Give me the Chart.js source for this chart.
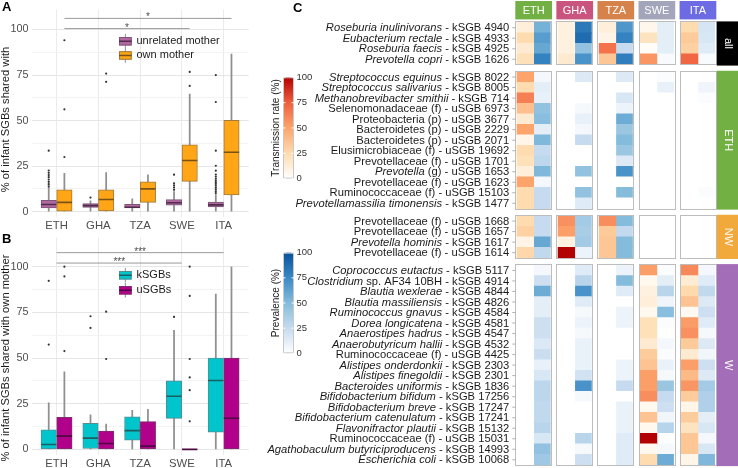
<!DOCTYPE html>
<html>
<head>
<meta charset="utf-8">
<script src="https://cdn.jsdelivr.net/npm/chart.js@4.4.0/dist/chart.umd.min.js"></script>
<style>
  html, body { margin: 0; padding: 0; background: #fff; }
  #wrap { position: relative; width: 738px; height: 468px; overflow: hidden; }
  canvas { position: absolute; }
</style>
</head>
<body>
<div id="wrap">
  <canvas id="chartA" width="258" height="233" style="left:0;top:0"></canvas>
  <canvas id="chartB" width="258" height="240" style="left:0;top:228px"></canvas>
  <canvas id="chartC" width="480" height="468" style="left:258px;top:0"></canvas>
</div>
<script>
// ---------- shared ----------
const groups = ['ETH', 'GHA', 'TZA', 'SWE', 'ITA'];
const yTicks = [0, 12.5, 25, 37.5, 50, 62.5, 75, 87.5, 100];

// ---------- panel A ----------
// box stats: [lower whisker, q1, median, q3, upper whisker]
const unrelatedStats = [[0, 2.0, 3.9, 6.2, 13.4], [0, 2.3, 3.3, 4.4, 6.0], [0, 2.1, 2.4, 4.0, 7.1], [0, 3.5, 4.9, 6.6, 11.0], [0, 2.6, 3.7, 5.3, 9.4]];
const unrelatedOut = [[13.9, 15.1, 16.3, 17.6, 18.9, 20.1, 21.3, 22.6, 33.5], [7.7], [], [12.0, 13.2, 14.4, 15.6, 20.3], [10.2, 11.2, 12.2, 13.2, 14.2, 15.2, 16.2, 17.2, 18.2, 19.3, 20.4, 22.5, 25.2, 33.5, 60.2, 75.0]];
const ownStats = [[0, 0, 5.1, 12.0, 21.1], [0, 0.4, 6.7, 12.0, 21.4], [0, 5.1, 12.5, 16.4, 20.2], [0, 16.6, 28.1, 36.7, 64.5], [0, 9.2, 32.6, 50.2, 86.5]];
const ownOut = [[30.0, 56.2, 94.1], [71.3, 75.8], [], [69.0, 76.7], []];
const sigFromA = [1.1875, 1.1875];
const sigToA = [5.1875, 4.1875];
const sigYA = [106.1, 100.5];
const sigTextA = ['*', '*'];

// ---------- panel B ----------
const kStats = [[0, 0, 2.7, 10.7, 25.5], [0, 0.5, 6.2, 14.3, 18.9], [0, 5.0, 10.3, 17.8, 21.4], [0, 17.0, 29.1, 37.5, 65.2], [0, 9.4, 37.7, 50.0, 85.0]];
const kOut = [[57.4, 92.3], [66.5, 72.9], [], [72.5], []];
const uStats = [[0, 0, 7.3, 17.5, 42.5], [0, 0, 3.2, 10.0, 13.9], [0, 0, 1.8, 15.2, 22.0], [0, 0, 0, 0, 0], [0, 0, 17.1, 50.0, 100]];
const uOut = [[53.8, 94.7, 100], [49.5, 75.4], [], [15.4, 32.4, 39.4, 49.5, 84.0, 100], []];
const sigFromB = [1, 1];
const sigToB = [5, 4];
const sigYB = [107.7, 102.0];
const sigTextB = ['***', '***'];

// ---------- panel C ----------
const rowGroups = ['all', 'ETH', 'NW', 'W'];
const rowGroupSize = [4, 13, 4, 19];
const taxonItalic = [
  'Roseburia inulinivorans', 'Eubacterium rectale', 'Roseburia faecis', 'Prevotella copri',
  'Streptococcus equinus', 'Streptococcus salivarius', 'Methanobrevibacter smithii', '', '', '', '', '', '', 'Prevotella', '', '', 'Prevotellamassilia timonensis',
  '', '', 'Prevotella hominis', '',
  'Coprococcus eutactus', 'Clostridium', 'Blautia wexlerae', 'Blautia massiliensis', 'Ruminococcus gnavus', 'Dorea longicatena', 'Anaerostipes hadrus', 'Anaerobutyricum hallii', '', 'Alistipes onderdonkii', 'Alistipes finegoldii', 'Bacteroides uniformis', 'Bifidobacterium bifidum', 'Bifidobacterium breve', 'Bifidobacterium catenulatum', 'Flavonifractor plautii', '', 'Agathobaculum butyriciproducens', 'Escherichia coli'
];
const taxonPlain = [
  ' - kSGB 4940', ' - kSGB 4933', ' - kSGB 4925', ' - kSGB 1626',
  ' - kSGB 8022', ' - kSGB 8005', ' - kSGB 714', 'Selenomonadaceae (f) - uSGB 6973', 'Proteobacteria (p) - uSGB 3677', 'Bacteroidetes (p) - uSGB 2229', 'Bacteroidetes (p) - uSGB 2071', 'Elusimicrobiaceae (f) - uSGB 19692', 'Prevotellaceae (f) - uSGB 1701', ' (g) - uSGB 1653', 'Prevotellaceae (f) - uSGB 1623', 'Ruminococcaceae (f) - uSGB 15103', ' - kSGB 1477',
  'Prevotellaceae (f) - uSGB 1668', 'Prevotellaceae (f) - uSGB 1657', ' - kSGB 1617', 'Prevotellaceae (f) - uSGB 1614',
  ' - kSGB 5117', ' sp. AF34 10BH - kSGB 4914', ' - kSGB 4844', ' - kSGB 4826', ' - kSGB 4584', ' - kSGB 4581', ' - kSGB 4547', ' - kSGB 4532', 'Ruminococcaceae (f) - uSGB 4425', ' - kSGB 2303', ' - kSGB 2301', ' - kSGB 1836', ' - kSGB 17256', ' - kSGB 17247', ' - kSGB 17241', ' - kSGB 15132', 'Ruminococcaceae (f) - uSGB 15031', ' - kSGB 14993', ' - kSGB 10068'
];
// transmission rate (%) and prevalence (%) per population, rows in the order above
const trETH = [12, 25, 15, 22,  50, 25, 63, 38, 15, 50, 7, 25, 22, 12, 50, 25, 25,  25, 30, 8, 27,  0, 0, 0, 0, 0, 0, 0, 0, 0, 0, 0, 0, 0, 0, 0, 0, 0, 0, 0];
const prETH = [55, 65, 60, 78,  5, 12, 10, 45, 48, 12, 52, 25, 28, 52, 5, 25, 25,  25, 25, 60, 27,  5, 22, 58, 12, 12, 22, 22, 16, 23, 10, 17, 29, 29, 27, 27, 30, 17, 45, 40];
const trGHA = [10, 10, 10, 15,  0, 0, 0, 0, 0, 0, 0, 0, 0, 0, 0, 0, 0,  57, 52, 10, 100,  0, 0, 0, 0, 0, 0, 0, 0, 0, 0, 0, 0, 0, 0, 0, 0, 0, 0, 0];
const prGHA = [82, 88, 45, 70,  15, 0, 0, 4, 10, 5, 25, 0, 0, 45, 0, 45, 14,  38, 36, 38, 8,  14, 30, 70, 14, 4, 8, 4, 9, 9, 9, 20, 70, 4, 0, 0, 0, 30, 4, 22];
const trTZA = [12, 8, 68, 35,  0, 0, 0, 0, 0, 0, 0, 0, 0, 0, 0, 0, 0,  58, 33, 35, 35,  0, 0, 0, 0, 0, 0, 0, 0, 0, 0, 0, 0, 0, 0, 0, 0, 0, 0, 0];
const prTZA = [68, 78, 25, 80,  15, 0, 17, 8, 58, 42, 50, 42, 15, 70, 0, 50, 0,  50, 26, 50, 50,  8, 50, 14, 0, 8, 8, 0, 0, 0, 8, 8, 25, 0, 9, 9, 9, 14, 14, 14];
const trSWE = [6, 20, 3, 55,  0, 0, 0, 0, 0, 0, 0, 0, 0, 0, 0, 0, 0,  0, 0, 0, 0,  52, 5, 10, 12, 5, 22, 22, 15, 32, 36, 52, 52, 58, 5, 36, 5, 100, 5, 25];
const prSWE = [12, 12, 12, 3,  2, 10, 0, 0, 0, 0, 0, 0, 0, 0, 0, 0, 0,  0, 0, 0, 0,  2, 12, 30, 7, 48, 2, 1, 5, 2, 9, 4, 42, 25, 22, 6, 31, 0, 4, 58];
const trITA = [25, 33, 30, 72,  0, 0, 0, 0, 0, 0, 0, 0, 0, 0, 0, 0, 0,  0, 0, 0, 0,  60, 14, 26, 36, 4, 53, 57, 33, 15, 52, 40, 55, 32, 7, 32, 20, 35, 35, 7];
const prITA = [18, 17, 14, 3,  0, 7, 2, 0, 0, 0, 0, 0, 0, 0, 0, 2, 0,  0, 0, 0, 0,  5, 14, 27, 15, 22, 14, 4, 15, 6, 22, 15, 38, 34, 34, 12, 17, 5, 17, 52];
const transByPop = [trETH, trGHA, trTZA, trSWE, trITA];
const prevByPop = [prETH, prGHA, prTZA, prSWE, prITA];
const legendTicks = [0, 25, 50, 75, 100];

const FONT = '"Liberation Sans", Arial, sans-serif';
Chart.defaults.font.family = FONT;

const popColors = ['#72b043', '#c9557e', '#d5834a', '#a3a6ba', '#6d6be4'];
const groupColors = ['#000000', '#72b043', '#f0a93a', '#a46db7'];
const orangeStops = [[0, '#ffffff'], [25, '#fedcb0'], [50, '#fca46c'], [75, '#ef5f3f'], [100, '#b30000']];
const blueStops = [[0, '#ffffff'], [25, '#c6dbef'], [50, '#85bcdc'], [75, '#3a89c5'], [100, '#08519c']];

function hexRgb(h) {
  return [parseInt(h.slice(1, 3), 16), parseInt(h.slice(3, 5), 16), parseInt(h.slice(5, 7), 16)];
}
function rampColor(stops, v) {
  for (let i = 1; i < stops.length; i++) {
    if (v <= stops[i][0] || i === stops.length - 1) {
      const t = Math.max(0, Math.min(1, (v - stops[i - 1][0]) / (stops[i][0] - stops[i - 1][0])));
      const a = hexRgb(stops[i - 1][1]), b = hexRgb(stops[i][1]);
      return 'rgb(' + a.map((c, k) => Math.round(c + (b[k] - c) * t)).join(',') + ')';
    }
  }
}

// ---------- boxplot charts ----------
function boxChart(canvasId, cfg) {
  const off = 0.1875;
  const datasets = [];
  cfg.series.forEach((s, si) => {
    const dx = si === 0 ? -off : off;
    datasets.push({
      type: 'bar', grouped: false, order: 6, barThickness: 1.1,
      backgroundColor: '#8f8f8f',
      data: s.stats.map((st, i) => ({ x: i + 1 + dx, y: [st[0], st[4]] }))
    });
    datasets.push({
      type: 'bar', grouped: false, order: 5, barThickness: 15.4,
      backgroundColor: s.fill, borderColor: s.line, borderWidth: 1, borderSkipped: false,
      data: s.stats.map((st, i) => ({ x: i + 1 + dx, y: [st[1], st[3]] }))
    });
    datasets.push({
      type: 'scatter', order: 2,
      pointStyle: 'line', pointRadius: 7.7, pointBorderColor: s.median, pointBorderWidth: 1.6,
      data: s.stats.map((st, i) => ({ x: i + 1 + dx, y: st[2] }))
    });
    datasets.push({
      type: 'scatter', order: 1,
      pointStyle: 'circle', pointRadius: 1.1, pointBackgroundColor: '#333333', pointBorderWidth: 0,
      data: s.out.flatMap((arr, i) => arr.map(v => ({ x: i + 1 + dx, y: v })))
    });
  });
  cfg.sigFrom.forEach((f, i) => {
    datasets.push({
      type: 'line', order: 7, borderColor: '#9a9a9a', borderWidth: 1, pointRadius: 0,
      data: [{ x: f, y: cfg.sigY[i] }, { x: cfg.sigTo[i], y: cfg.sigY[i] }]
    });
  });

  const decor = {
    id: 'decor' + canvasId,
    afterDraw(chart) {
      const { ctx, scales: { x, y } } = chart;
      ctx.save();
      // significance labels
      ctx.fillStyle = '#4d4d4d';
      ctx.font = '10px ' + FONT;
      ctx.textAlign = 'center';
      ctx.textBaseline = 'alphabetic';
      cfg.sigFrom.forEach((f, i) => {
        const xm = (x.getPixelForValue(f) + x.getPixelForValue(cfg.sigTo[i])) / 2;
        ctx.fillText(cfg.sigText[i], xm, y.getPixelForValue(cfg.sigY[i]) + 2);
      });
      // legend
      cfg.series.forEach((s, si) => {
        const top = cfg.legendTop + si * cfg.legendPitch;
        const kx = 119, kw = 12.7, kh = 10.5, cx = kx + kw / 2;
        ctx.strokeStyle = '#8f8f8f';
        ctx.lineWidth = 1;
        ctx.beginPath();
        ctx.moveTo(cx, top - 2);
        ctx.lineTo(cx, top + kh + 2);
        ctx.stroke();
        ctx.fillStyle = s.fill;
        ctx.fillRect(kx, top + 1, kw, kh - 2);
        ctx.strokeStyle = s.line;
        ctx.strokeRect(kx + 0.5, top + 1.5, kw - 1, kh - 3);
        ctx.strokeStyle = s.median;
        ctx.lineWidth = 1.5;
        ctx.beginPath();
        ctx.moveTo(kx, top + kh / 2);
        ctx.lineTo(kx + kw, top + kh / 2);
        ctx.stroke();
        ctx.fillStyle = '#1a1a1a';
        ctx.font = '11px ' + FONT;
        ctx.textAlign = 'left';
        ctx.textBaseline = 'middle';
        ctx.fillText(s.label, 136.5, top + kh / 2);
      });
      // panel letter
      ctx.fillStyle = '#000';
      ctx.font = 'bold 13px ' + FONT;
      ctx.textAlign = 'left';
      ctx.textBaseline = 'alphabetic';
      ctx.fillText(cfg.letter, 2, cfg.letterY);
      // y title
      ctx.fillStyle = '#1a1a1a';
      ctx.font = '11.2px ' + FONT;
      ctx.translate(9, cfg.titleY);
      ctx.rotate(-Math.PI / 2);
      ctx.textAlign = 'center';
      ctx.textBaseline = 'alphabetic';
      ctx.fillText(cfg.title, 0, 0);
      ctx.restore();
    }
  };

  return new Chart(document.getElementById(canvasId), {
    type: 'bar',
    data: { datasets },
    plugins: [decor],
    options: {
      responsive: false,
      animation: false,
      events: [],
      layout: { padding: { top: cfg.padTop, right: 1, left: 0, bottom: 0 } },
      plugins: { legend: { display: false }, tooltip: { enabled: false } },
      scales: {
        x: {
          type: 'linear', min: 0.4, max: 5.6, offset: false,
          afterBuildTicks: s => { s.ticks = groups.map((g, i) => ({ value: i + 1 })); },
          afterFit: s => { s.height = cfg.xAxisH; },
          grid: { color: '#ebebeb', drawTicks: false, offset: false },
          border: { display: false },
          ticks: { callback: v => groups[Math.round(v) - 1], color: '#4d4d4d', font: { size: 11.3 }, padding: 2, maxRotation: 0, autoSkip: false }
        },
        y: {
          type: 'linear', min: -3, max: cfg.yMax,
          afterBuildTicks: s => { s.ticks = yTicks.map(v => ({ value: v })); },
          afterFit: s => { s.width = 31.5; },
          grid: { color: c => (c.tick && c.tick.value % 25 === 0) ? '#e6e6e6' : '#f3f3f3', drawTicks: false },
          border: { display: false },
          ticks: { callback: v => (v % 25 === 0 ? v : ''), color: '#4d4d4d', font: { size: 10.8 }, padding: 3 }
        }
      }
    }
  });
}

boxChart('chartA', {
  series: [
    { label: 'unrelated mother', stats: unrelatedStats, out: unrelatedOut, fill: '#b168a1', line: '#7e5677', median: '#4f2c4a' },
    { label: 'own mother', stats: ownStats, out: ownOut, fill: '#ffa516', line: '#a17a3c', median: '#7a5216' }
  ],
  sigFrom: sigFromA, sigTo: sigToA, sigY: sigYA, sigText: sigTextA,
  padTop: 5.3, xAxisH: 15.9, yMax: 111,
  legendTop: 36, legendPitch: 14.2,
  letter: 'A', letterY: 11, title: '% of infant SGBs shared with', titleY: 119.5
});

boxChart('chartB', {
  series: [
    { label: 'kSGBs', stats: kStats, out: kOut, fill: '#00c5cd', line: '#4f8f92', median: '#1b5e61' },
    { label: 'uSGBs', stats: uStats, out: uOut, fill: '#b1008a', line: '#7d2f6d', median: '#4e0a42' }
  ],
  sigFrom: sigFromB, sigTo: sigToB, sigY: sigYB, sigText: sigTextB,
  padTop: 4.8, xAxisH: 13.1, yMax: 116,
  legendTop: 42, legendPitch: 15,
  letter: 'B', letterY: 15, title: '% of infant SGBs shared with own mother', titleY: 130
});

// ---------- heatmap ----------
const gapY = 0.49, gapX = 0.26, panelW = 2.2;
const groupStart = [];
rowGroupSize.reduce((acc, n, g) => { groupStart[g] = acc; return acc + n + 0.2 + gapY; }, 0);
const rowCenter = [];
rowGroupSize.forEach((n, g) => { for (let k = 0; k < n; k++) rowCenter.push(groupStart[g] + 0.6 + k); });
const yTotal = groupStart[3] + rowGroupSize[3] + 0.2;
const xTotal = groups.length * panelW + (groups.length - 1) * gapX;

const heatSets = [];
groups.forEach((g, p) => {
  [transByPop[p], prevByPop[p]].forEach((vals, c) => {
    const stops = c === 0 ? orangeStops : blueStops;
    heatSets.push({
      type: 'bar', grouped: false, barPercentage: 1, categoryPercentage: 1, borderWidth: 0,
      backgroundColor: vals.map(v => rampColor(stops, v)),
      data: vals.map((v, i) => ({ x: p * (panelW + gapX) + 0.6 + c, y: [rowCenter[i] - 0.51, rowCenter[i] + 0.51] }))
    });
  });
});

const LABEL_PX = 11.2;
const heatDecor = {
  id: 'heatDecor',
  afterDatasetsDraw(chart) {
    const { ctx, chartArea, scales: { x, y } } = chart;
    ctx.save();
    // panel borders
    ctx.strokeStyle = '#bdbdbd';
    ctx.lineWidth = 1;
    rowGroupSize.forEach((n, g) => {
      const y0 = y.getPixelForValue(groupStart[g]), y1 = y.getPixelForValue(groupStart[g] + n + 0.2);
      groups.forEach((pop, p) => {
        const x0 = x.getPixelForValue(p * (panelW + gapX)), x1 = x.getPixelForValue(p * (panelW + gapX) + panelW);
        ctx.strokeRect(Math.round(x0) + 0.5, Math.round(y0) + 0.5, Math.round(x1 - x0) - 1, Math.round(y1 - y0) - 1);
      });
      // right strip
      ctx.fillStyle = groupColors[g];
      const sx = chartArea.right + 0.5;
      ctx.fillRect(sx, y0, 21.5, y1 - y0);
      ctx.save();
      ctx.fillStyle = '#ffffff';
      ctx.font = '11px ' + FONT;
      ctx.translate(sx + 10.75, (y0 + y1) / 2);
      ctx.rotate(Math.PI / 2);
      ctx.textAlign = 'center';
      ctx.textBaseline = 'middle';
      ctx.fillText(rowGroups[g], 0, 0);
      ctx.restore();
    });
    // top strips
    groups.forEach((pop, p) => {
      const x0 = x.getPixelForValue(p * (panelW + gapX)), x1 = x.getPixelForValue(p * (panelW + gapX) + panelW);
      ctx.fillStyle = popColors[p];
      ctx.fillRect(x0, 1, x1 - x0, chartArea.top - 3);
      ctx.fillStyle = '#ffffff';
      ctx.font = '11px ' + FONT;
      ctx.textAlign = 'center';
      ctx.textBaseline = 'middle';
      ctx.fillText(pop, (x0 + x1) / 2, 1 + (chartArea.top - 3) / 2 + 0.5);
    });
    // row labels and ticks
    const xr = chartArea.left - 6;
    rowCenter.forEach((rc, i) => {
      const py = y.getPixelForValue(rc);
      ctx.strokeStyle = '#b0b0b0';
      ctx.beginPath();
      ctx.moveTo(chartArea.left - 3, py);
      ctx.lineTo(chartArea.left, py);
      ctx.stroke();
      ctx.fillStyle = '#1a1a1a';
      ctx.textAlign = 'right';
      ctx.textBaseline = 'middle';
      ctx.font = LABEL_PX + 'px ' + FONT;
      const pw = ctx.measureText(taxonPlain[i]).width;
      ctx.fillText(taxonPlain[i], xr, py + 0.5);
      if (taxonItalic[i]) {
        ctx.font = 'italic ' + LABEL_PX + 'px ' + FONT;
        ctx.fillText(taxonItalic[i], xr - pw, py + 0.5);
      }
    });
    // colour bars
    const bars = [
      { stops: orangeStops, top: 77.3, bottom: 178.6, title: 'Transmission rate (%)' },
      { stops: blueStops, top: 252.7, bottom: 353.3, title: 'Prevalence (%)' }
    ];
    bars.forEach(b => {
      const bx = 25, bw = 11;
      const grad = ctx.createLinearGradient(0, b.bottom, 0, b.top);
      b.stops.forEach(s => grad.addColorStop(s[0] / 100, s[1]));
      ctx.fillStyle = grad;
      ctx.fillRect(bx, b.top, bw, b.bottom - b.top);
      ctx.strokeStyle = '#c8c8c8';
      ctx.strokeRect(bx + 0.5, b.top + 0.5, bw - 1, b.bottom - b.top - 1);
      legendTicks.forEach(t => {
        const ty = b.bottom - (b.bottom - b.top) * t / 100;
        ctx.strokeStyle = 'rgba(255,255,255,0.9)';
        ctx.beginPath();
        ctx.moveTo(bx, ty); ctx.lineTo(bx + 2.5, ty);
        ctx.moveTo(bx + bw - 2.5, ty); ctx.lineTo(bx + bw, ty);
        ctx.stroke();
        ctx.fillStyle = '#333333';
        ctx.font = '9.5px ' + FONT;
        ctx.textAlign = 'left';
        ctx.textBaseline = 'middle';
        ctx.fillText(String(t), bx + bw + 2.5, ty);
      });
      ctx.save();
      ctx.fillStyle = '#1a1a1a';
      ctx.font = '10px ' + FONT;
      ctx.translate(18, (b.top + b.bottom) / 2);
      ctx.rotate(-Math.PI / 2);
      ctx.textAlign = 'center';
      ctx.textBaseline = 'middle';
      ctx.fillText(b.title, 0, 0);
      ctx.restore();
    });
    // panel letter
    ctx.fillStyle = '#000';
    ctx.font = 'bold 13px ' + FONT;
    ctx.textAlign = 'left';
    ctx.textBaseline = 'alphabetic';
    ctx.fillText('C', 35, 12);
    ctx.restore();
  }
};

new Chart(document.getElementById('chartC'), {
  type: 'bar',
  data: { datasets: heatSets },
  plugins: [heatDecor],
  options: {
    responsive: false,
    animation: false,
    events: [],
    layout: { padding: { top: 21.4, right: 21.7, left: 257.3, bottom: 1.9 } },
    plugins: { legend: { display: false }, tooltip: { enabled: false } },
    scales: {
      x: { type: 'linear', display: false, min: 0, max: xTotal, offset: false, afterBuildTicks: s => { s.ticks = []; } },
      y: { type: 'linear', display: false, min: 0, max: yTotal, reverse: true, afterBuildTicks: s => { s.ticks = []; } }
    }
  }
});
</script>
</body>
</html>
